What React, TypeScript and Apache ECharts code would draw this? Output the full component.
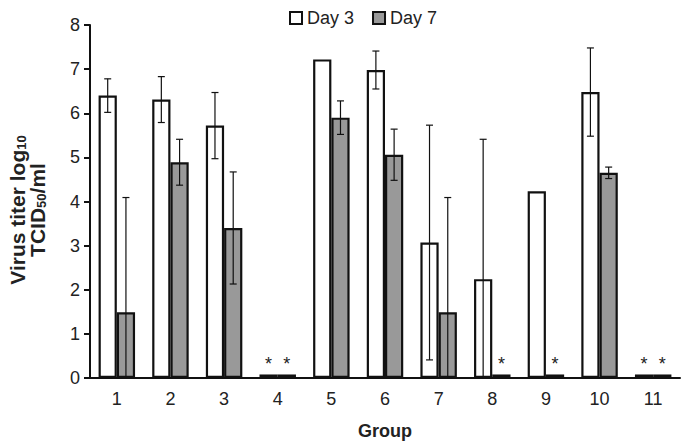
import React, { useEffect, useRef } from "react";
import * as echarts from "echarts";

const groups = ["1", "2", "3", "4", "5", "6", "7", "8", "9", "10", "11"];
const day3 = [6.4, 6.31, 5.72, 0.08, 7.22, 6.98, 3.07, 2.24, 4.23, 6.48, 0.08];
const day7 = [1.49, 4.89, 3.4, 0.08, 5.9, 5.06, 1.49, 0.08, 0.08, 4.65, 0.08];
const day3Err: (number | null)[] = [0.38, 0.52, 0.75, null, null, 0.43, 2.66, 3.17, null, 1.0, null];
const day7Err: (number | null)[] = [2.6, 0.52, 1.27, null, 0.38, 0.58, 2.6, null, null, 0.13, null];
const day3Star = [false, false, false, true, false, false, false, false, false, false, true];
const day7Star = [false, false, false, true, false, false, false, true, true, false, true];

const FONT = "Liberation Sans, Arial, sans-serif";
const GAP = 0.32;

function barData(vals: number[], stars: boolean[]) {
  return vals.map((v, i) =>
    stars[i]
      ? {
          value: v,
          itemStyle: { color: "#000" },
          label: { show: true, formatter: "*", position: "top", distance: 1, fontSize: 18, color: "#222", fontFamily: FONT },
        }
      : v
  );
}

function errData(vals: number[], errs: (number | null)[], side: number) {
  const out: number[][] = [];
  vals.forEach((v, i) => {
    const e = errs[i];
    if (e != null) out.push([i, v - e, v + e, side]);
  });
  return out;
}

export default function App() {
  const ref = useRef<HTMLDivElement>(null);
  useEffect(() => {
    if (!ref.current) return;
    const chart = echarts.init(ref.current, null, { renderer: "svg" });
    const renderErr = (params: any, api: any) => {
      const idx = api.value(0);
      const lo = api.value(1);
      const hi = api.value(2);
      const side = api.value(3);
      const band = api.size([1, 0])[0];
      const x = api.coord([idx, 0])[0] + side * band * ((1 - GAP) / 4);
      const yHi = api.coord([idx, hi])[1];
      const yLo = api.coord([idx, Math.max(0, lo)])[1];
      const cap = 3.5;
      const style = { stroke: "#111", lineWidth: 1.2 };
      const children: any[] = [
        { type: "line", shape: { x1: x, y1: yHi, x2: x, y2: yLo }, style },
        { type: "line", shape: { x1: x - cap, y1: yHi, x2: x + cap, y2: yHi }, style },
      ];
      if (lo >= 0) children.push({ type: "line", shape: { x1: x - cap, y1: yLo, x2: x + cap, y2: yLo }, style });
      return { type: "group", children };
    };
    chart.setOption({
      animation: false,
      backgroundColor: "#fff",
      textStyle: { fontFamily: FONT },
      legend: {
        top: 4,
        left: 284,
        itemWidth: 12,
        itemHeight: 12,
        itemGap: 18,
        icon: "rect",
        textStyle: { fontSize: 18, color: "#222", fontFamily: FONT },
        data: ["Day 3", "Day 7"],
      },
      graphic: [
        {
          type: "text",
          x: 27,
          y: 210,
          rotation: Math.PI / 2,
          style: {
            text: "{a|Virus titer log}{s|10}\n{a|TCID}{s|50}{a|/ml}",
            align: "center",
            verticalAlign: "middle",
            rich: {
              a: { fontSize: 21, fontWeight: "bold", fill: "#222", fontFamily: FONT, lineHeight: 20 },
              s: { fontSize: 13, fontWeight: "bold", fill: "#222", fontFamily: FONT, padding: [9, 0, 0, 0], lineHeight: 20 },
            },
          },
        },
      ],
      grid: { left: 90, right: 6, top: 25, bottom: 67 },
      xAxis: {
        type: "category",
        data: groups,
        name: "Group",
        nameLocation: "middle",
        nameGap: 44,
        nameTextStyle: { fontSize: 18, fontWeight: "bold", color: "#222", fontFamily: FONT },
        axisLine: { lineStyle: { color: "#111", width: 2 } },
        axisTick: { show: false },
        axisLabel: { fontSize: 18, color: "#222", margin: 12, fontFamily: FONT },
      },
      yAxis: {
        type: "value",
        min: 0,
        max: 8,
        interval: 1,
        splitLine: { show: false },
        axisLine: { show: true, lineStyle: { color: "#111", width: 2 } },
        axisTick: { show: true, length: 6, lineStyle: { color: "#111", width: 2 } },
        axisLabel: { fontSize: 18, color: "#222", margin: 10, fontFamily: FONT },
      },
      series: [
        {
          name: "Day 3",
          type: "bar",
          data: barData(day3, day3Star),
          barGap: "0%",
          barCategoryGap: GAP * 100 + "%",
          itemStyle: { color: "#fff", borderColor: "#111", borderWidth: 2.2 },
        },
        {
          name: "Day 7",
          type: "bar",
          data: barData(day7, day7Star),
          barGap: "0%",
          barCategoryGap: GAP * 100 + "%",
          itemStyle: { color: "#999999", borderColor: "#111", borderWidth: 2.2 },
        },
        {
          type: "custom",
          renderItem: renderErr,
          data: errData(day3, day3Err, -1),
          z: 10,
          encode: { x: 0, y: [1, 2] },
        },
        {
          type: "custom",
          renderItem: renderErr,
          data: errData(day7, day7Err, 1),
          z: 10,
          encode: { x: 0, y: [1, 2] },
        },
      ],
    });
    return () => chart.dispose();
  }, []);
  return <div ref={ref} style={{ position: "fixed", left: 0, top: 0, width: 686, height: 445 }} />;
}
